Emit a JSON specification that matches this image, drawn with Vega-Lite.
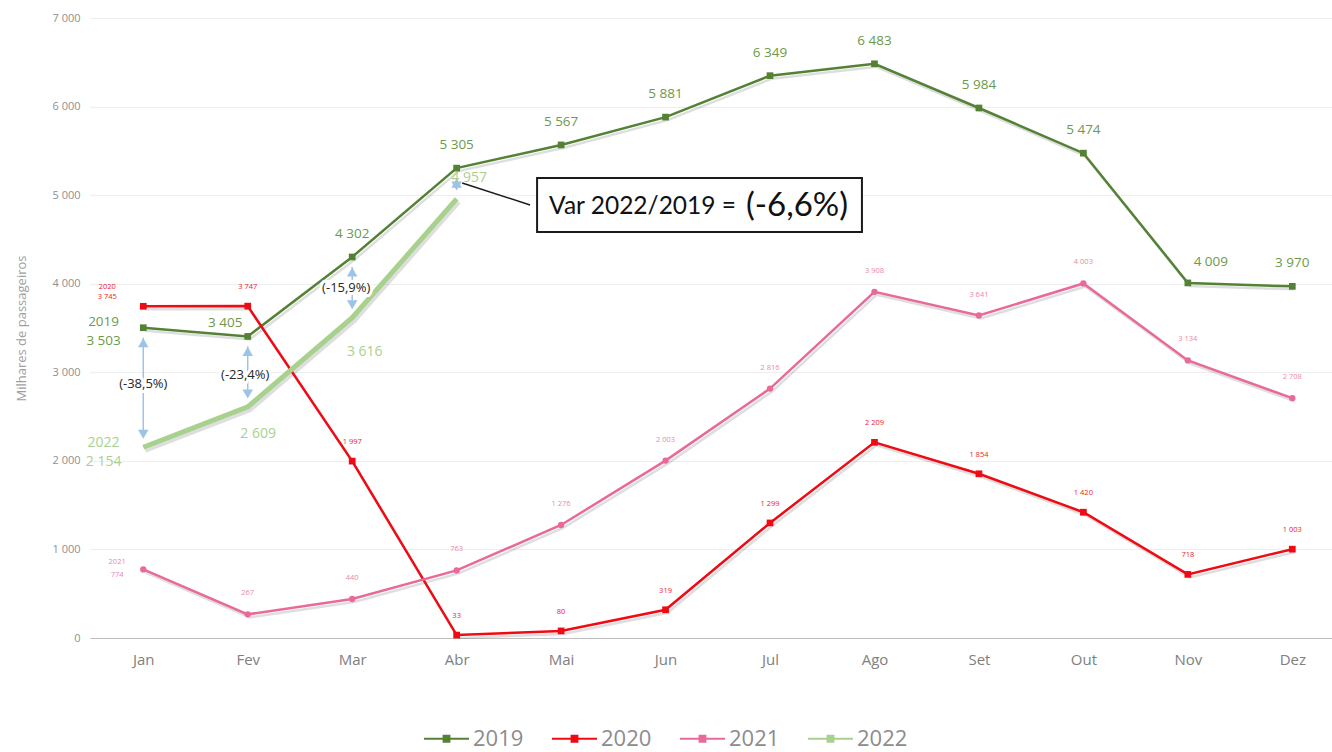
{
  "$schema": "https://vega.github.io/schema/vega-lite/v6.json",
  "autosize": "none",
  "width": 1242,
  "height": 620,
  "padding": {"left": 90, "top": 18, "right": 0, "bottom": 114},
  "background": "white",
  "config": {
    "view": {"stroke": null},
    "font": "Open Sans",
    "locale": {"number": {"decimal": ",", "thousands": " ", "grouping": [3], "currency": ["", " €"]}}
  },
  "datasets": {
    "series": [
      {"s": "2019", "m": 1, "v": 3503}, {"s": "2019", "m": 2, "v": 3405}, {"s": "2019", "m": 3, "v": 4302}, {"s": "2019", "m": 4, "v": 5305},
      {"s": "2019", "m": 5, "v": 5567}, {"s": "2019", "m": 6, "v": 5881}, {"s": "2019", "m": 7, "v": 6349}, {"s": "2019", "m": 8, "v": 6483},
      {"s": "2019", "m": 9, "v": 5984}, {"s": "2019", "m": 10, "v": 5474}, {"s": "2019", "m": 11, "v": 4009}, {"s": "2019", "m": 12, "v": 3970},
      {"s": "2020", "m": 1, "v": 3745}, {"s": "2020", "m": 2, "v": 3747}, {"s": "2020", "m": 3, "v": 1997}, {"s": "2020", "m": 4, "v": 33},
      {"s": "2020", "m": 5, "v": 80}, {"s": "2020", "m": 6, "v": 319}, {"s": "2020", "m": 7, "v": 1299}, {"s": "2020", "m": 8, "v": 2209},
      {"s": "2020", "m": 9, "v": 1854}, {"s": "2020", "m": 10, "v": 1420}, {"s": "2020", "m": 11, "v": 718}, {"s": "2020", "m": 12, "v": 1003},
      {"s": "2021", "m": 1, "v": 774}, {"s": "2021", "m": 2, "v": 267}, {"s": "2021", "m": 3, "v": 440}, {"s": "2021", "m": 4, "v": 763},
      {"s": "2021", "m": 5, "v": 1276}, {"s": "2021", "m": 6, "v": 2003}, {"s": "2021", "m": 7, "v": 2816}, {"s": "2021", "m": 8, "v": 3908},
      {"s": "2021", "m": 9, "v": 3641}, {"s": "2021", "m": 10, "v": 4003}, {"s": "2021", "m": 11, "v": 3134}, {"s": "2021", "m": 12, "v": 2708},
      {"s": "2022", "m": 1, "v": 2154}, {"s": "2022", "m": 2, "v": 2609}, {"s": "2022", "m": 3, "v": 3616}, {"s": "2022", "m": 4, "v": 4957}
    ],
    "ann": [
      {"x": 0.62, "y": 3568, "t": "2019", "k": "g19"},
      {"x": 0.62, "y": 3353, "t": "3 503", "k": "g19"},
      {"x": 1.785, "y": 3557, "t": "3 405", "k": "g19"},
      {"x": 11.22, "y": 4245, "t": "4 009", "k": "g19"},
      {"x": 0.62, "y": 2202, "t": "2022", "k": "g22"},
      {"x": 0.62, "y": 1987, "t": "2 154", "k": "g22"},
      {"x": 2.1, "y": 2303, "t": "2 609", "k": "g22"},
      {"x": 3.12, "y": 3229, "t": "3 616", "k": "g22"},
      {"x": 4.12, "y": 5194, "t": "4 957", "k": "g22"},
      {"x": 0.655, "y": 3963, "t": "2020", "k": "r20"},
      {"x": 0.655, "y": 3850, "t": "3 745", "k": "r20"},
      {"x": 0.75, "y": 858, "t": "2021", "k": "p21"},
      {"x": 0.75, "y": 711, "t": "774", "k": "p21"},
      {"x": 1.0, "y": 2868, "t": "(-38,5%)", "k": "pct"},
      {"x": 1.976, "y": 2969, "t": "(-23,4%)", "k": "pct"},
      {"x": 2.943, "y": 3952, "t": "(-15,9%)", "k": "pct"}
    ],
    "arrows": [
      {"m": 1, "top": 3503, "bot": 2154},
      {"m": 2, "top": 3405, "bot": 2609},
      {"m": 3, "top": 4302, "bot": 3616},
      {"m": 4, "top": 5305, "bot": 4957}
    ]
  },
  "encoding": {
    "x": {
      "field": "m", "type": "quantitative",
      "scale": {"domain": [0.49, 12.38], "nice": false, "zero": false},
      "axis": {
        "values": [1, 2, 3, 4, 5, 6, 7, 8, 9, 10, 11, 12],
        "labelExpr": "['Jan','Fev','Mar','Abr','Mai','Jun','Jul','Ago','Set','Out','Nov','Dez'][datum.value-1]",
        "title": null, "grid": false, "ticks": false,
        "domainColor": "#bfbfbf", "domainWidth": 1,
        "labelColor": "#808080", "labelFontSize": 15, "labelPadding": 14, "labelFont": "Open Sans"
      }
    },
    "y": {
      "field": "v", "type": "quantitative",
      "scale": {"domain": [0, 7000], "nice": false},
      "axis": {
        "values": [0, 1000, 2000, 3000, 4000, 5000, 6000, 7000],
        "format": ",d",
        "title": "Milhares de passageiros", "titleColor": "#a0a0a0", "titleFontSize": 13, "titleFontWeight": "normal", "titlePadding": 23,
        "labelColor": "#909090", "labelFontSize": 11, "labelPadding": 10,
        "domain": false, "ticks": false, "gridColor": "#eeeeee"
      }
    }
  },
  "layer": [
    {
      "data": {"name": "series"},
      "transform": [{"filter": "datum.s !== '2022'"}],
      "mark": {"type": "line", "stroke": "#000000", "opacity": 0.13, "strokeWidth": 2.5, "xOffset": 2, "yOffset": 3},
      "encoding": {"detail": {"field": "s"}}
    },
    {
      "data": {"name": "series"},
      "transform": [{"filter": "datum.s === '2022'"}],
      "mark": {"type": "line", "stroke": "#000000", "opacity": 0.13, "strokeWidth": 5, "xOffset": 2, "yOffset": 3},
      "encoding": {"detail": {"field": "s"}}
    },
    {
      "data": {"name": "series"},
      "transform": [{"filter": "datum.s !== '2022'"}],
      "mark": {"type": "line", "strokeWidth": 2.5},
      "encoding": {
        "color": {
          "field": "s", "type": "nominal",
          "scale": {"domain": ["2019", "2020", "2021", "2022"], "range": ["#548235", "#f00a14", "#e8699a", "#a9d18e"]},
          "legend": {
            "title": null, "orient": "none", "direction": "horizontal", "legendX": 333, "legendY": 697,
            "symbolType": "M-1,0H1M-0.13,-0.13H0.13V0.13H-0.13Z", "symbolSize": 2025, "symbolStrokeWidth": 2,
            "labelFontSize": 22, "labelColor": "#8c8c8c", "labelFont": "Open Sans", "labelOffset": 3, "columnPadding": 24, "padding": 0
          }
        }
      }
    },
    {
      "data": {"name": "series"},
      "transform": [{"filter": "datum.s === '2022'"}],
      "mark": {"type": "line", "strokeWidth": 5},
      "encoding": {"color": {"field": "s", "type": "nominal"}}
    },
    {
      "data": {"name": "series"},
      "transform": [{"filter": "datum.s === '2019' || datum.s === '2020'"}],
      "mark": {"type": "point", "shape": "square", "filled": true, "size": 45, "opacity": 1},
      "encoding": {"color": {"field": "s", "type": "nominal"}}
    },
    {
      "data": {"name": "series"},
      "transform": [{"filter": "datum.s === '2021'"}],
      "mark": {"type": "point", "shape": "circle", "filled": true, "size": 40, "opacity": 1},
      "encoding": {"color": {"field": "s", "type": "nominal"}}
    },
    {
      "data": {"name": "series"},
      "transform": [{"filter": "datum.s === '2019' && datum.m !== 1 && datum.m !== 2 && datum.m !== 11"}],
      "mark": {"type": "text", "dy": -23, "fontSize": 13.5, "color": "#6b9a4b", "baseline": "middle"},
      "encoding": {"text": {"field": "v", "type": "quantitative", "format": ",d"}}
    },
    {
      "data": {"name": "series"},
      "transform": [{"filter": "datum.s === '2020' && datum.m !== 1"}],
      "mark": {"type": "text", "dy": -19, "fontSize": 7.5, "color": "#f0202a", "baseline": "middle"},
      "encoding": {"text": {"field": "v", "type": "quantitative", "format": ",d"}}
    },
    {
      "data": {"name": "series"},
      "transform": [{"filter": "datum.s === '2021' && datum.m !== 1"}],
      "mark": {"type": "text", "dy": -21, "fontSize": 7.5, "color": "#ec86ab", "baseline": "middle"},
      "encoding": {"text": {"field": "v", "type": "quantitative", "format": ",d"}}
    },
    {
      "data": {"name": "arrows"},
      "mark": {"type": "rule", "color": "#9dc3e6", "strokeWidth": 1.5, "yOffset": 10, "y2Offset": -10},
      "encoding": {"y": {"field": "top", "type": "quantitative"}, "y2": {"field": "bot"}}
    },
    {
      "data": {"name": "arrows"},
      "mark": {"type": "point", "shape": "triangle-up", "filled": true, "color": "#9dc3e6", "size": 110, "yOffset": 15, "opacity": 1},
      "encoding": {"y": {"field": "top", "type": "quantitative"}}
    },
    {
      "data": {"name": "arrows"},
      "mark": {"type": "point", "shape": "triangle-down", "filled": true, "color": "#9dc3e6", "size": 110, "yOffset": -13, "opacity": 1},
      "encoding": {"y": {"field": "bot", "type": "quantitative"}}
    },
    {
      "data": {"name": "ann"},
      "transform": [{"filter": "datum.k === 'g19'"}],
      "mark": {"type": "text", "fontSize": 13.5, "color": "#6b9a4b", "baseline": "middle"},
      "encoding": {"x": {"field": "x", "type": "quantitative"}, "y": {"field": "y", "type": "quantitative"}, "text": {"field": "t"}}
    },
    {
      "data": {"name": "ann"},
      "transform": [{"filter": "datum.k === 'g22'"}],
      "mark": {"type": "text", "fontSize": 14, "color": "#a9d18e", "baseline": "middle"},
      "encoding": {"x": {"field": "x", "type": "quantitative"}, "y": {"field": "y", "type": "quantitative"}, "text": {"field": "t"}}
    },
    {
      "data": {"name": "ann"},
      "transform": [{"filter": "datum.k === 'r20'"}],
      "mark": {"type": "text", "fontSize": 7.5, "color": "#f0202a", "baseline": "middle"},
      "encoding": {"x": {"field": "x", "type": "quantitative"}, "y": {"field": "y", "type": "quantitative"}, "text": {"field": "t"}}
    },
    {
      "data": {"name": "ann"},
      "transform": [{"filter": "datum.k === 'p21'"}],
      "mark": {"type": "text", "fontSize": 7.5, "color": "#ec86ab", "baseline": "middle"},
      "encoding": {"x": {"field": "x", "type": "quantitative"}, "y": {"field": "y", "type": "quantitative"}, "text": {"field": "t"}}
    },
    {
      "data": {"name": "ann"},
      "transform": [{"filter": "datum.k === 'pct'"}],
      "mark": {"type": "text", "fontSize": 13, "color": "white", "stroke": "white", "strokeWidth": 6, "baseline": "middle"},
      "encoding": {"x": {"field": "x", "type": "quantitative"}, "y": {"field": "y", "type": "quantitative"}, "text": {"field": "t"}}
    },
    {
      "data": {"name": "ann"},
      "transform": [{"filter": "datum.k === 'pct'"}],
      "mark": {"type": "text", "fontSize": 13, "color": "#262626", "baseline": "middle"},
      "encoding": {"x": {"field": "x", "type": "quantitative"}, "y": {"field": "y", "type": "quantitative"}, "text": {"field": "t"}}
    },
    {
      "data": {"values": [{"x": 4.053, "y": 5137, "x2": 4.703, "y2": 4889}]},
      "mark": {"type": "rule", "color": "#1a1a1a", "strokeWidth": 1.5},
      "encoding": {"x": {"field": "x", "type": "quantitative"}, "x2": {"field": "x2"}, "y": {"field": "y", "type": "quantitative"}, "y2": {"field": "y2"}}
    },
    {
      "data": {"values": [{"x": 4.77, "x2": 7.88, "y": 5194, "y2": 4584}]},
      "mark": {"type": "rect", "fill": "white", "stroke": "#1a1a1a", "strokeWidth": 2},
      "encoding": {"x": {"field": "x", "type": "quantitative"}, "x2": {"field": "x2"}, "y": {"field": "y", "type": "quantitative"}, "y2": {"field": "y2"}}
    },
    {
      "data": {"values": [{"x": 4.885, "y": 4866, "t": "Var 2022/2019 ="}]},
      "mark": {"type": "text", "font": "Lato", "fontSize": 24.5, "color": "#111111", "align": "left", "baseline": "middle"},
      "encoding": {"x": {"field": "x", "type": "quantitative"}, "y": {"field": "y", "type": "quantitative"}, "text": {"field": "t"}}
    },
    {
      "data": {"values": [{"x": 6.77, "y": 4880, "t": "(-6,6%)"}]},
      "mark": {"type": "text", "font": "Lato", "fontSize": 33, "color": "#111111", "align": "left", "baseline": "middle"},
      "encoding": {"x": {"field": "x", "type": "quantitative"}, "y": {"field": "y", "type": "quantitative"}, "text": {"field": "t"}}
    }
  ]
}
